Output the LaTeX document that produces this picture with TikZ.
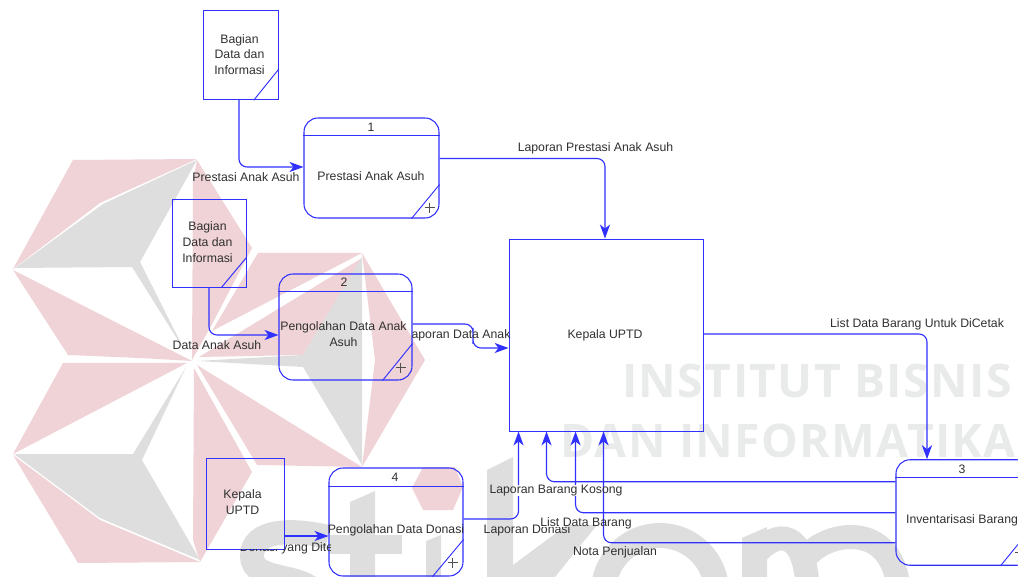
\documentclass[tikz,border=0pt]{standalone}
\usepackage{fontspec}
\setmainfont{Liberation Sans}
\newfontfamily\wmfont[LetterSpace=3]{Open Sans}
\usetikzlibrary{arrows.meta,calc}
\definecolor{dfdblue}{HTML}{3030FF}
\definecolor{wmred}{HTML}{F0D3D6}
\definecolor{wmgray}{HTML}{DEDEDE}
\definecolor{wmtext}{HTML}{E9EAEA}
\definecolor{ink}{HTML}{303030}
\tikzset{
  proc/.style={draw=dfdblue,line width=0.8pt,rounded corners=10.5pt,inner sep=0pt},
  ent/.style={draw=dfdblue,line width=0.7pt,inner sep=0pt},
  detail/.style={draw=dfdblue,line width=0.7pt},
  plusmark/.style={draw=ink!85,line width=0.5pt},
  flow/.style={draw=dfdblue,line width=0.85pt,rounded corners=6pt,-{Stealth[length=10.5pt,width=7.6pt,inset=3pt]}},
  lbl/.style={text=ink,font=\fontsize{9.2}{11.8}\selectfont,align=center,inner sep=0pt},
  wmword/.style={text=wmtext,font=\fontsize{34.7}{36}\wmfont\bfseries,anchor=west,inner sep=0pt},
  wmstroke/.style={draw=wmgray,line width=18pt}
}
\begin{document}
\begin{tikzpicture}[x=0.75pt,y=-0.75pt]
\useasboundingbox (0,0) rectangle (1018,577);
\clip (0,0) rectangle (1018,577);
% watermark star
\fill[wmred] (13,269)--(73,160)--(197,159)--(100,203)--cycle;
\fill[wmred] (13,270)--(68,355)--(140,358)--(192,361)--cycle;
\fill[wmred] (197,160)--(252,248)--(210,328)--(192,360)--(193,180)--cycle;
\fill[wmred] (258,253)--(362,253)--(212,331)--cycle;
\fill[wmred] (362,258)--(199,357)--(303,355)--cycle;
\fill[wmred] (362,253)--(425,360)--(362,467)--(375,360)--cycle;
\fill[wmred] (197,365)--(257,465)--(362,467)--cycle;
\fill[wmred] (194,368)--(252,472)--(200,562)--(193,540)--cycle;
\fill[wmred] (13,454)--(63,363)--(187,363)--cycle;
\fill[wmred] (13,455)--(100,520)--(200,562)--(78,563)--cycle;
\fill[wmred] (423,467)--(455,467)--(463,487)--(453,510)--(423,510)--(412,488)--cycle;
\fill[wmgray] (197,160)--(103,204)--(15,268)--(132,267)--(186,353)--(140,262)--cycle;
\fill[wmgray] (362,257)--(303,355)--(197,361)--(303,367)--(362,465)--cycle;
\fill[wmgray] (14,454)--(133,454)--(186,367)--(142,460)--(200,560)--(100,518)--cycle;
% watermark words
\node[wmword] (wm1) at (622,381) {INSTITUT BISNIS};
\node[wmword] (wm2) at (560,441) {DAN INFORMATIKA};
% watermark stikom
\draw[wmstroke] (328,537) .. controls (290,528) and (252,530) .. (252,556) .. controls (252,585) and (310,570) .. (320,600);
\fill[wmgray] (350,502)--(375,491)--(375,590)--(350,590)--cycle;
\fill[wmgray] (330,535) rectangle (402,554);
\fill[wmgray] (426,541)--(441,535)--(441,590)--(426,590)--cycle;
\fill[wmgray] (487,470)--(513,457)--(513,590)--(487,590)--cycle;
\fill[wmgray] (513,565)--(567,525)--(597,525)--(555,577)--(513,577)--cycle;
\fill[wmgray,even odd rule] (660,592) circle (69) (660,592) circle (44);
\fill[wmgray] (742,538)--(767,527)--(767,590)--(742,590)--cycle;
\draw[wmstroke] (755,555) .. controls (775,530) and (808,525) .. (808,600);
\draw[wmstroke] (808,555) .. controls (830,530) and (899,520) .. (899,600);
% entities
\node[ent,minimum width={74.5*0.75pt},minimum height={89.5*0.75pt}] (a) at (241,55) {};
\node[ent,minimum width={74*0.75pt},minimum height={88*0.75pt}] (b) at (209,243) {};
\node[ent,minimum width={78*0.75pt},minimum height={91*0.75pt}] (c) at (245,503.5) {};
\node[ent,minimum width={194*0.75pt},minimum height={192*0.75pt}] (k) at (606,335) {};
% processes
\node[proc,minimum width={135*0.75pt},minimum height={100*0.75pt}] (p1) at (371.5,168) {};
\node[proc,minimum width={133*0.75pt},minimum height={106*0.75pt}] (p2) at (345.5,327) {};
\node[proc,minimum width={135*0.75pt},minimum height={105.5*0.75pt}] (p3) at (963.5,512.5) {};
\node[proc,minimum width={134*0.75pt},minimum height={108*0.75pt}] (p4) at (396,522) {};
\foreach \n/\cy/\cx/\px/\py in {p1/34/28/10/11,p2/37/30/12/13,p3/38/31/12/13,p4/37/31/11/14}{
  \draw[detail] ([shift={(0,18.5)}]\n.north west) -- ([shift={(0,18.5)}]\n.north east);
  \draw[detail] ([shift={(0,-\cy)}]\n.south east) -- ([shift={(-\cx,0)}]\n.south east);
  \draw[plusmark] ([shift={(-\px-5,-\py)}]\n.south east) -- ([shift={(-\px+5,-\py)}]\n.south east);
  \draw[plusmark] ([shift={(-\px,-\py-5)}]\n.south east) -- ([shift={(-\px,-\py+5)}]\n.south east);
}
\draw[detail] ([shift={(0,-31)}]a.south east) -- ([shift={(-25,0)}]a.south east);
\draw[detail] ([shift={(0,-30)}]b.south east) -- ([shift={(-25,0)}]b.south east);
% node texts
\node[lbl] (ta) at (239.5,54.5) {Bagian\\Data dan\\Informasi};
\node[lbl] (tb) at (207.5,242) {Bagian\\Data dan\\Informasi};
\node[lbl] (tc) at (242.5,502) {Kepala\\UPTD};
\node[lbl] (tk) at (605,335) {Kepala UPTD};
\node[lbl] (n1) at (371,127) {1};
\node[lbl] (n2) at (344,282) {2};
\node[lbl] (n3) at (962,469) {3};
\node[lbl] (n4) at (395,477) {4};
\node[lbl] (t1) at (371,176) {Prestasi Anak Asuh};
\node[lbl] (t2) at (343.5,334) {Pengolahan Data Anak\\Asuh};
\node[lbl] (t3) at (962,520) {Inventarisasi Barang};
\node[lbl] (t4) at (396,530) {Pengolahan Data Donasi};
% connectors
\coordinate (m2) at (473,336);
\draw[flow] ([shift={(-2,0)}]a.south) |- ([shift={(0,-1)}]p1.west);
\draw[flow] (b.south) |- ([shift={(0,8)}]p2.west);
\draw[flow] ([shift={(-0.5,32.5)}]c.east) -- ([shift={(0,14)}]p4.west);
\draw[flow] ([shift={(0,-9.5)}]p1.east) -| ([shift={(-1,0)}]k.north);
\draw[flow] ([shift={(0,-3)}]p2.east) -| (m2) |- ([shift={(0,13)}]k.west);
\draw[flow] ([shift={(0,-1)}]k.east) -| ([shift={(-36.5,0)}]p3.north);
\draw[flow] ([shift={(0,-84)}]p3.south west) -| ([shift={(38,0)}]k.south west);
\begin{scope}
\clip (0,0)--(1018,0)--(1018,577)--(0,577)--(0,485)--(490,485)--(490,496)--(600,496)--(600,485)--(0,485)--cycle;
\draw[flow] ([shift={(0,-3)}]p4.east) -| ([shift={(10,0)}]k.south west);
\draw[flow] ([shift={(0,-53)}]p3.south west) -| ([shift={(67,0)}]k.south west);
\end{scope}
\draw[flow] ([shift={(0,-23)}]p3.south west) -| ([shift={(95,0)}]k.south west);
% connector labels
\node[lbl] (l1) at (246,177) {Prestasi Anak Asuh};
\node[lbl] (l2) at (217,345) {Data Anak Asuh};
\node[lbl] (l3) at (595.5,148) {Laporan Prestasi Anak Asuh};
\node[lbl] (l4) at (461,335) {aporan Data Anak};
\node[lbl] (l5) at (917,324) {List Data Barang Untuk DiCetak};
\node[lbl] (l6) at (556,491) {Laporan Barang Kosong};
\node[lbl] (l7) at (586,523) {List Data Barang};
\node[lbl] (l8) at (615,552) {Nota Penjualan};
\begin{scope}
\clip (480,520)--(541,520)--(541,527)--(575,527)--(575,542)--(480,542)--cycle;
\node[lbl] (l9) at (527,530) {Laporan Donasi};
\end{scope}
\begin{scope}
\clip (230,549)--(284,549)--(284,538)--(330,538)--(330,565)--(230,565)--cycle;
\node[lbl,anchor=west] (l10) at (239.5,548) {Donasi yang Dite};
\end{scope}
\end{tikzpicture}
\end{document}
